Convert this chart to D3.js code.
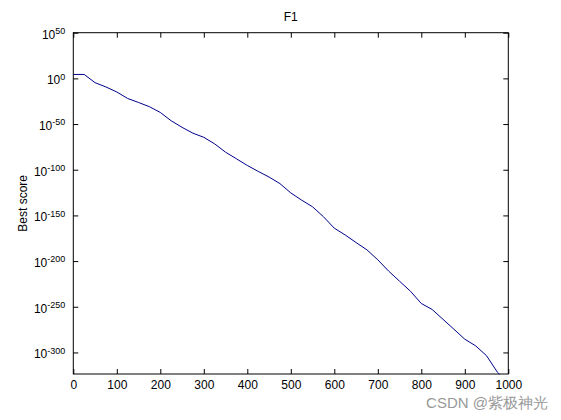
<!DOCTYPE html><html><head><meta charset="utf-8"><script src="https://cdn.jsdelivr.net/npm/d3@7"></script>
<style>body{margin:0;background:#fff}text{font-family:"Liberation Sans",Arial,sans-serif}</style></head><body><svg id="c" width="561" height="420"></svg><script>
const iters=[0,25,50,75,100,125,150,175,200,225,250,275,300,325,350,375,400,425,450,475,500,525,550,575,600,625,650,675,700,725,750,775,800,825,850,875,900,925,950,975,980];
const log10Score=[4.3,4.3,-4.7,-9.4,-14.9,-22,-26.4,-31,-37.3,-46.4,-53.6,-60,-64.5,-71.7,-80.8,-88,-95.3,-101.8,-108,-115.2,-125.4,-133.3,-140.6,-151.4,-164,-171.4,-179.7,-187.7,-198.6,-211,-222,-233,-246.4,-253,-263.8,-274.6,-285.5,-292.8,-303.6,-321.7,-324];
const xTicks=[0,100,200,300,400,500,600,700,800,900,1000];
const yTickExps=[50,0,-50,-100,-150,-200,-250,-300];
const svg=d3.select("#c");
const L=73.3,R=508.3,T=32.7,B=374;
const x=d3.scaleLinear().domain([0,1000]).range([L,R]);
const y=d3.scaleLinear().domain([-323.6,50]).range([B,T]);
svg.append("rect").attr("x",L).attr("y",T).attr("width",R-L).attr("height",B-T).attr("fill","#fff").attr("stroke","#000").attr("stroke-width",1);
const gx=svg.append("g").attr("transform",`translate(0,${B})`).call(d3.axisBottom(x).tickValues(xTicks).tickSize(-5).tickPadding(6).tickFormat(d3.format("d")));
svg.append("g").attr("transform",`translate(0,${T})`).call(d3.axisTop(x).tickValues(xTicks).tickSize(-5).tickFormat(""));
const gy=svg.append("g").attr("transform",`translate(${L},0)`).call(d3.axisLeft(y).tickValues(yTickExps).tickSize(-5).tickPadding(6).tickFormat(""));
svg.append("g").attr("transform",`translate(${R},0)`).call(d3.axisRight(y).tickValues(yTickExps).tickSize(-5).tickFormat(""));
svg.selectAll(".domain").remove();
svg.selectAll(".tick line").attr("stroke","#000");
gx.selectAll("text").attr("font-size",12).attr("fill","#000").attr("font-family","Liberation Sans, Arial");
gy.selectAll(".tick").each(function(d){
  const t=d3.select(this).append("text").attr("x",-8).attr("dy","0.45em").attr("text-anchor","end").attr("fill","#000").attr("font-size",12);
  t.append("tspan").text("10");
  t.append("tspan").attr("dy","-0.5em").attr("font-size",9).text(d);
});
svg.append("path").datum(iters.map((v,i)=>[v,log10Score[i]])).attr("fill","none").attr("stroke","#00008b").attr("stroke-width",1)
 .attr("d",d3.line().x(d=>x(d[0])).y(d=>y(d[1])));
svg.append("text").attr("x",(L+R)/2).attr("y",21).attr("text-anchor","middle").attr("font-size",12).text("F1");
svg.append("text").attr("transform",`translate(27,${(T+B)/2}) rotate(-90)`).attr("text-anchor","middle").attr("font-size",12).text("Best score");
svg.append("text").attr("x",548).attr("y",408).attr("text-anchor","end").attr("font-size",15).attr("fill","#999").attr("font-family","Noto Sans CJK SC").text("CSDN @紫极神光");
</script></body></html>
